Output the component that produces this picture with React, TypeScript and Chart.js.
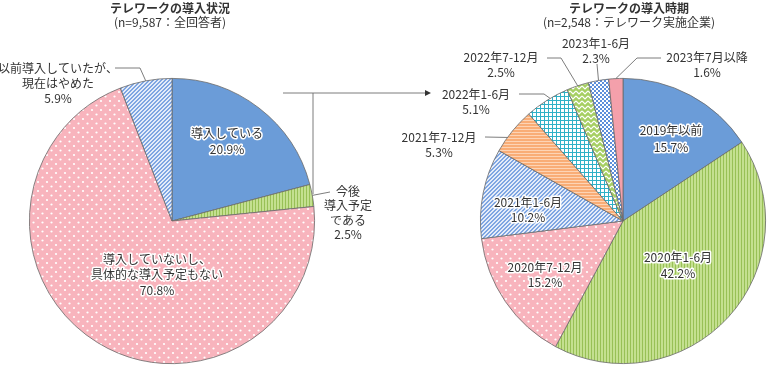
import React, { useEffect, useRef } from "react";
import { Chart, registerables } from "chart.js";

Chart.register(...registerables);

// ---------- data ----------
const leftTitle = "テレワークの導入状況";
const leftSubtitle = "(n=9,587：全回答者)";
const leftCategories = [
  "導入している",
  "今後導入予定である",
  "導入していないし、具体的な導入予定もない",
  "以前導入していたが、現在はやめた",
];
const leftLines = [
  ["導入している"],
  ["今後", "導入予定", "である"],
  ["導入していないし、", "具体的な導入予定もない"],
  ["以前導入していたが、", "現在はやめた"],
];
const leftValues = [20.9, 2.5, 70.8, 5.9];

const rightTitle = "テレワークの導入時期";
const rightSubtitle = "(n=2,548：テレワーク実施企業)";
const rightCategories = [
  "2019年以前",
  "2020年1-6月",
  "2020年7-12月",
  "2021年1-6月",
  "2021年7-12月",
  "2022年1-6月",
  "2022年7-12月",
  "2023年1-6月",
  "2023年7月以降",
];
const rightValues = [15.7, 42.2, 15.2, 10.2, 5.3, 5.1, 2.5, 2.3, 1.6];

// ---------- layout (label offsets relative to pie centre) ----------
type LabelSpec = {
  dx: number;
  dy: number;
  gap: number;
  inner: boolean;
  leader?: number[][];
  t?: number;
};

const leftLayout: LabelSpec[] = [
  { dx: 55, dy: -88, gap: 16, inner: true },
  { dx: 176, dy: -30, gap: 14.5, inner: false, leader: [[158, -29]] },
  { dx: -15, dy: 38, gap: 15.5, inner: true },
  { dx: -114, dy: -153, gap: 15, inner: false, leader: [[-57, -153], [-32, -153]] },
];
const rightLayout: LabelSpec[] = [
  { dx: 48, dy: -91, gap: 17, inner: true },
  { dx: 55, dy: 36, gap: 16, inner: true },
  { dx: -78, dy: 46, gap: 15, inner: true },
  { dx: -95, dy: -19, gap: 15, inner: true },
  { dx: -184, dy: -84, gap: 15, inner: false, leader: [[-138, -84]], t: 0.33 },
  { dx: -147, dy: -127, gap: 15, inner: false, leader: [[-104, -127], [-79, -127]], t: 0.58 },
  { dx: -122, dy: -164, gap: 15, inner: false, leader: [[-76, -163], [-62, -163]] },
  { dx: -27, dy: -178, gap: 15, inner: false, leader: [[-26, -157]] },
  { dx: 84, dy: -164, gap: 15, inner: false, leader: [[38, -163], [14, -163]] },
];

const FONT = '"Noto Sans CJK JP", "Noto Sans", sans-serif';
const TEXT = "#333333";
const LINE = "#6e6e6e";

// ---------- patterns ----------
function makePattern(w: number, h: number, draw: (g: CanvasRenderingContext2D) => void) {
  const c = document.createElement("canvas");
  c.width = w;
  c.height = h;
  const g = c.getContext("2d")!;
  draw(g);
  return g.createPattern(c, "repeat") as CanvasPattern;
}

function buildPatterns() {
  const blueSolid = "#6b9cd8";
  const pinkSolid = "#f4a0ab";
  const greenStripes = makePattern(3, 3, (g) => {
    g.fillStyle = "#c4e090";
    g.fillRect(0, 0, 3, 3);
    g.fillStyle = "#98c056";
    g.fillRect(0, 0, 1, 3);
  });
  const pinkDots = makePattern(9, 9, (g) => {
    g.fillStyle = "#f8b4bd";
    g.fillRect(0, 0, 9, 9);
    g.fillStyle = "#ffffff";
    g.beginPath();
    g.arc(2, 2, 1.1, 0, Math.PI * 2);
    g.fill();
    g.beginPath();
    g.arc(6.5, 6.5, 1.1, 0, Math.PI * 2);
    g.fill();
  });
  const blueDiag = makePattern(4, 4, (g) => {
    for (let x = 0; x < 4; x++)
      for (let y = 0; y < 4; y++) {
        g.fillStyle = (x + y) % 4 < 2 ? "#7fa6e2" : "#e4ecf9";
        g.fillRect(x, y, 1, 1);
      }
  });
  const orangeStripes = makePattern(3, 3, (g) => {
    g.fillStyle = "#f9ad76";
    g.fillRect(0, 0, 3, 3);
    g.fillStyle = "#fdd4b5";
    g.fillRect(0, 0, 3, 1);
  });
  const tealGrid = makePattern(4, 4, (g) => {
    g.fillStyle = "#ffffff";
    g.fillRect(0, 0, 4, 4);
    g.fillStyle = "#2fb1c7";
    g.fillRect(0, 0, 4, 1);
    g.fillRect(0, 0, 1, 4);
  });
  const greenZigzag = makePattern(6, 5, (g) => {
    g.fillStyle = "#a6cf63";
    g.fillRect(0, 0, 6, 5);
    g.strokeStyle = "#ffffff";
    g.lineWidth = 1.2;
    g.beginPath();
    g.moveTo(0, 1);
    g.lineTo(3, 4);
    g.lineTo(6, 1);
    g.stroke();
  });
  const blueChecker = makePattern(4, 4, (g) => {
    g.fillStyle = "#ffffff";
    g.fillRect(0, 0, 4, 4);
    g.fillStyle = "#5d8fda";
    g.fillRect(0, 0, 2, 2);
    g.fillRect(2, 2, 2, 2);
  });
  return {
    left: [blueSolid, greenStripes, pinkDots, blueDiag],
    right: [
      blueSolid,
      greenStripes,
      pinkDots,
      blueDiag,
      orangeStripes,
      tealGrid,
      greenZigzag,
      blueChecker,
      pinkSolid,
    ],
  };
}

// ---------- drawing helpers ----------
function drawLabels(
  chart: any,
  lines: string[][],
  values: number[],
  layout: LabelSpec[]
) {
  const ctx: CanvasRenderingContext2D = chart.ctx;
  const meta = chart.getDatasetMeta(0);
  ctx.save();
  ctx.font = `12px ${FONT}`;
  ctx.textAlign = "center";
  ctx.textBaseline = "middle";
  meta.data.forEach((arc: any, i: number) => {
    const p = arc.getProps(["x", "y", "startAngle", "endAngle", "outerRadius"], true);
    const spec = layout[i];
    const cx = p.x;
    const cy = p.y;
    const texts = [...lines[i], values[i].toFixed(1) + "%"];
    if (spec.leader) {
      const t = spec.t ?? 0.5;
      const a = p.startAngle + (p.endAngle - p.startAngle) * t;
      const ex = cx + p.outerRadius * Math.cos(a);
      const ey = cy + p.outerRadius * Math.sin(a);
      ctx.strokeStyle = LINE;
      ctx.lineWidth = 0.9;
      ctx.beginPath();
      spec.leader.forEach((pt, k) => {
        if (k === 0) ctx.moveTo(cx + pt[0], cy + pt[1]);
        else ctx.lineTo(cx + pt[0], cy + pt[1]);
      });
      ctx.lineTo(ex, ey);
      ctx.stroke();
    }
    texts.forEach((s, k) => {
      const x = cx + spec.dx;
      const y = cy + spec.dy + k * spec.gap;
      if (spec.inner) {
        ctx.lineJoin = "round";
        ctx.strokeStyle = "#ffffff";
        ctx.lineWidth = 3;
        ctx.strokeText(s, x, y);
      }
      ctx.fillStyle = TEXT;
      ctx.fillText(s, x, y);
    });
  });
  ctx.restore();
}

function drawTitle(chart: any, title: string, sub: string, dx: number) {
  const ctx: CanvasRenderingContext2D = chart.ctx;
  const meta = chart.getDatasetMeta(0);
  const cx = meta.data[0].x + dx;
  ctx.save();
  ctx.textAlign = "center";
  ctx.textBaseline = "middle";
  ctx.fillStyle = TEXT;
  ctx.font = `bold 12px ${FONT}`;
  ctx.fillText(title, cx, 8);
  ctx.font = `12px ${FONT}`;
  ctx.fillText(sub, cx, 22);
  ctx.restore();
}

function drawBracket(chart: any) {
  const ctx: CanvasRenderingContext2D = chart.ctx;
  const meta = chart.getDatasetMeta(0);
  const cx = meta.data[0].x;
  const cy = meta.data[0].y;
  const y = cy - 128;
  const x0 = cx + 111;
  const xv = cx + 141;
  const x1 = cx + 259;
  ctx.save();
  ctx.strokeStyle = LINE;
  ctx.lineWidth = 0.9;
  ctx.beginPath();
  ctx.moveTo(x0, y);
  ctx.lineTo(x1 - 4, y);
  ctx.moveTo(xv, y);
  ctx.lineTo(xv, cy - 27);
  ctx.stroke();
  ctx.fillStyle = "#333";
  ctx.beginPath();
  ctx.moveTo(x1, y);
  ctx.lineTo(x1 - 6, y - 3);
  ctx.lineTo(x1 - 6, y + 3);
  ctx.closePath();
  ctx.fill();
  ctx.restore();
}

function makeConfig(
  categories: string[],
  values: number[],
  colors: any[],
  padding: any,
  plugin: any
): any {
  return {
    type: "pie",
    data: {
      labels: categories,
      datasets: [
        {
          data: values,
          backgroundColor: colors,
          borderColor: "#6a6a6a",
          borderWidth: 0.8,
        },
      ],
    },
    options: {
      responsive: false,
      animation: false,
      devicePixelRatio: 1,
      layout: { padding },
      plugins: {
        legend: { display: false },
        tooltip: { enabled: false },
        title: { display: false },
      },
    },
    plugins: [plugin],
  };
}

export default function App() {
  const leftRef = useRef<HTMLCanvasElement>(null);
  const rightRef = useRef<HTMLCanvasElement>(null);

  useEffect(() => {
    const pats = buildPatterns();
    const left = new Chart(
      leftRef.current!,
      makeConfig(
        leftCategories,
        leftValues,
        pats.left,
        { left: 29, top: 78, right: 454, bottom: 3 },
        {
          id: "leftDecor",
          afterDraw(chart: any) {
            drawBracket(chart);
            drawLabels(chart, leftLines, leftValues, leftLayout);
            drawTitle(chart, leftTitle, leftSubtitle, -2);
          },
        }
      )
    );
    const right = new Chart(
      rightRef.current!,
      makeConfig(
        rightCategories,
        rightValues,
        pats.right,
        { left: 480, top: 78, right: 3, bottom: 3 },
        {
          id: "rightDecor",
          afterDraw(chart: any) {
            drawLabels(
              chart,
              rightCategories.map((c) => [c]),
              rightValues,
              rightLayout
            );
            drawTitle(chart, rightTitle, rightSubtitle, 6);
          },
        }
      )
    );
    return () => {
      left.destroy();
      right.destroy();
    };
  }, []);

  const canvasStyle: React.CSSProperties = {
    position: "absolute",
    left: 0,
    top: 0,
    width: 769,
    height: 367,
  };
  return (
    <div
      style={{
        position: "fixed",
        left: 0,
        top: 0,
        width: 769,
        height: 367,
        background: "#ffffff",
      }}
    >
      <canvas ref={leftRef} width={769} height={367} style={canvasStyle} />
      <canvas ref={rightRef} width={769} height={367} style={canvasStyle} />
    </div>
  );
}
